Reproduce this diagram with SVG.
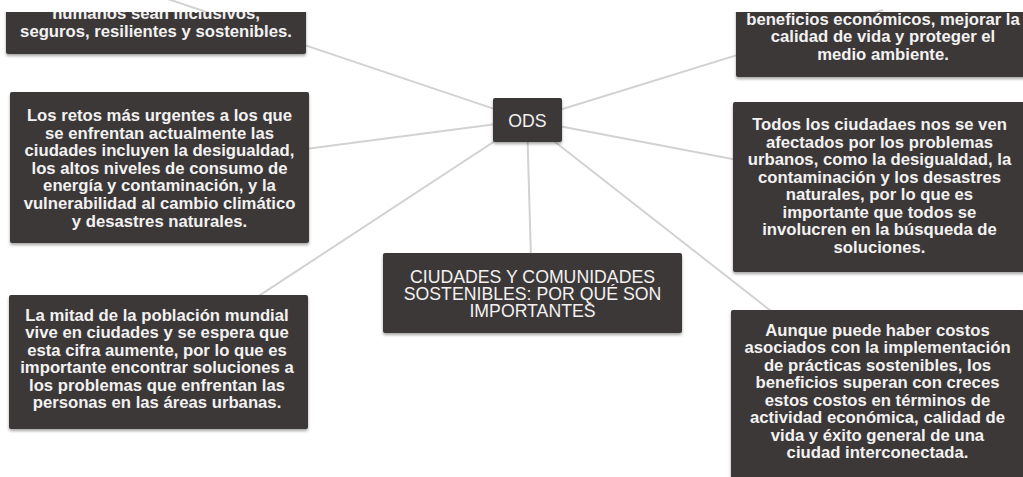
<svg xmlns="http://www.w3.org/2000/svg" width="1023" height="477" viewBox="0 0 1023 477">
<style>
.box{fill:#3c3837;filter:url(#sh)}
.t{font-family:"Liberation Sans",Arial,sans-serif;font-size:16.7px;font-weight:bold;fill:#f2f2f2;text-anchor:middle}
.tc{font-family:"Liberation Sans",Arial,sans-serif;font-size:17.7px;fill:#f2f2f2;text-anchor:middle}
.c{stroke:#d2d2d2;stroke-width:2;fill:none}
</style>
<defs>
<filter id="sh" x="-10%" y="-10%" width="120%" height="130%">
<feDropShadow dx="0" dy="2" stdDeviation="1.5" flood-color="#000" flood-opacity="0.35"/>
</filter>
<clipPath id="top"><rect x="0" y="12" width="1023" height="465"/></clipPath>
</defs>
<rect width="1023" height="477" fill="#fff"/>
<g id="connectors">
<line class="c" x1="527" y1="120" x2="156" y2="-5"/>
<line class="c" x1="527" y1="120" x2="883" y2="10"/>
<line class="c" x1="527" y1="120" x2="160" y2="168"/>
<line class="c" x1="527" y1="120" x2="880" y2="187"/>
<line class="c" x1="527" y1="120" x2="158" y2="362"/>
<line class="c" x1="527" y1="120" x2="532" y2="293"/>
<line class="c" x1="527" y1="120" x2="877" y2="394"/>
</g>
<g id="node-top-left" clip-path="url(#top)">
<rect class="box" x="6" y="-40" width="300" height="94" rx="2"/>
<text class="t" x="156" y="19.2">humanos sean inclusivos,</text>
<text class="t" x="156" y="36.7">seguros, resilientes y sostenibles.</text>
</g>
<g id="node-top-right" clip-path="url(#top)">
<rect class="box" x="736" y="-40" width="294" height="117" rx="2"/>
<text class="t" x="883" y="24.5">beneficios económicos, mejorar la</text>
<text class="t" x="883" y="42">calidad de vida y proteger el</text>
<text class="t" x="883" y="59.5">medio ambiente.</text>
</g>
<g id="node-ods">
<rect class="box" x="493" y="98" width="69" height="44" rx="2"/>
<text class="tc" x="527.5" y="126.5">ODS</text>
</g>
<g id="node-left-mid">
<rect class="box" x="10" y="92" width="299" height="151" rx="2"/>
<text class="t" x="159.5" y="121">Los retos más urgentes a los que</text>
<text class="t" x="159.5" y="138.6">se enfrentan actualmente las</text>
<text class="t" x="159.5" y="156.2">ciudades incluyen la desigualdad,</text>
<text class="t" x="159.5" y="173.8">los altos niveles de consumo de</text>
<text class="t" x="159.5" y="191.4">energía y contaminación, y la</text>
<text class="t" x="159.5" y="209">vulnerabilidad al cambio climático</text>
<text class="t" x="159.5" y="226.6">y desastres naturales.</text>
</g>
<g id="node-right-mid">
<rect class="box" x="733" y="102" width="293" height="170" rx="2"/>
<text class="t" x="879.5" y="130">Todos los ciudadaes nos se ven</text>
<text class="t" x="879.5" y="147.5">afectados por los problemas</text>
<text class="t" x="879.5" y="165">urbanos, como la desigualdad, la</text>
<text class="t" x="879.5" y="182.5">contaminación y los desastres</text>
<text class="t" x="879.5" y="200">naturales, por lo que es</text>
<text class="t" x="879.5" y="217.5">importante que todos se</text>
<text class="t" x="879.5" y="235">involucren en la búsqueda de</text>
<text class="t" x="879.5" y="252.5">soluciones.</text>
</g>
<g id="node-center">
<rect class="box" x="383" y="253" width="299" height="80" rx="2"/>
<text class="tc" x="532.5" y="283">CIUDADES Y COMUNIDADES</text>
<text class="tc" x="532.5" y="300">SOSTENIBLES: POR QUÉ SON</text>
<text class="tc" x="532.5" y="317">IMPORTANTES</text>
</g>
<g id="node-bottom-left">
<rect class="box" x="9" y="295" width="299" height="134" rx="2"/>
<text class="t" x="157" y="320.7">La mitad de la población mundial</text>
<text class="t" x="157" y="338.2">vive en ciudades y se espera que</text>
<text class="t" x="157" y="355.7">esta cifra aumente, por lo que es</text>
<text class="t" x="157" y="373.2">importante encontrar soluciones a</text>
<text class="t" x="157" y="390.7">los problemas que enfrentan las</text>
<text class="t" x="157" y="408.2">personas en las áreas urbanas.</text>
</g>
<g id="node-bottom-right">
<rect class="box" x="731" y="310" width="293" height="180" rx="2"/>
<text class="t" x="877.5" y="335.7">Aunque puede haber costos</text>
<text class="t" x="877.5" y="353.2">asociados con la implementación</text>
<text class="t" x="877.5" y="370.7">de prácticas sostenibles, los</text>
<text class="t" x="877.5" y="388.2">beneficios superan con creces</text>
<text class="t" x="877.5" y="405.7">estos costos en términos de</text>
<text class="t" x="877.5" y="423.2">actividad económica, calidad de</text>
<text class="t" x="877.5" y="440.7">vida y éxito general de una</text>
<text class="t" x="877.5" y="458.2">ciudad interconectada.</text>
</g>
</svg>
